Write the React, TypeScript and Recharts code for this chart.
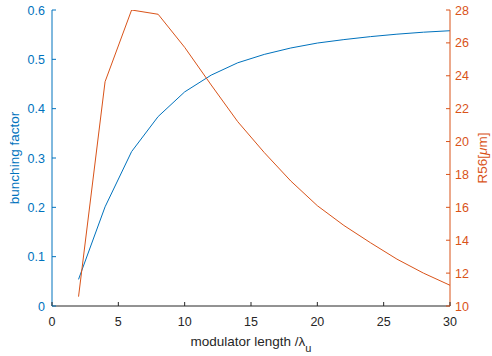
import { Line, LineChart, XAxis, YAxis } from 'recharts'

const FONT = "'Liberation Sans', Arial, Helvetica, sans-serif"
const BLUE = '#0072BD'
const ORANGE = '#D95319'
const GREY = '#262626'

// modulator length in units of the undulator period
const lengths = [2, 4, 6, 8, 10, 12, 14, 16, 18, 20, 22, 24, 26, 28, 30]
const bunching = [
  0.054, 0.201, 0.313, 0.384, 0.434, 0.468, 0.493, 0.51, 0.523, 0.533, 0.54,
  0.546, 0.551, 0.555, 0.558,
]
const r56 = [
  10.57, 23.64, 28.0, 27.74, 25.73, 23.44, 21.21, 19.33, 17.6, 16.1, 14.9,
  13.85, 12.85, 12.0, 11.26,
]

const xTicks = [0, 5, 10, 15, 20, 25, 30]
const leftTicks = [0, 0.1, 0.2, 0.3, 0.4, 0.5, 0.6]
const rightTicks = [10, 12, 14, 16, 18, 20, 22, 24, 26, 28]

const data = lengths.map((x, i) => ({ x, b: bunching[i], r: r56[i] }))

const TICK = 4

function BottomTick({ x, y, payload }: any) {
  return (
    <g>
      <line x1={x} x2={x} y1={y} y2={y - TICK} stroke={GREY} />
      <text x={x} y={y + 20} textAnchor="middle" fill={GREY} fontSize={12.5} fontFamily={FONT}>
        {payload.value}
      </text>
    </g>
  )
}

function TopTick({ x, y }: any) {
  return <line x1={x} x2={x} y1={y} y2={y + TICK} stroke={GREY} />
}

function LeftTick({ x, y, payload }: any) {
  return (
    <g>
      <line x1={x} x2={x + TICK} y1={y} y2={y} stroke={BLUE} />
      <text x={x - 7} y={y + 4.5} textAnchor="end" fill={BLUE} fontSize={12.5} fontFamily={FONT}>
        {payload.value}
      </text>
    </g>
  )
}

function RightTick({ x, y, payload }: any) {
  return (
    <g>
      <line x1={x} x2={x - TICK} y1={y} y2={y} stroke={ORANGE} />
      <text x={x + 5} y={y + 4.5} textAnchor="start" fill={ORANGE} fontSize={12.5} fontFamily={FONT}>
        {payload.value}
      </text>
    </g>
  )
}

function XLabel({ viewBox }: any) {
  const cx = viewBox.x + viewBox.width / 2
  return (
    <text x={cx} y={viewBox.y + 40} textAnchor="middle" fill={GREY} fontSize={13.5} fontFamily={FONT}>
      modulator length /λ
      <tspan dy={6} fontSize={11}>u</tspan>
    </text>
  )
}

function LeftLabel({ viewBox }: any) {
  const cy = viewBox.y + viewBox.height / 2
  const lx = 19
  return (
    <text
      x={lx}
      y={cy}
      transform={`rotate(-90 ${lx} ${cy})`}
      textAnchor="middle"
      fill={BLUE}
      fontSize={13.5}
      fontFamily={FONT}
    >
      bunching factor
    </text>
  )
}

function RightLabel({ viewBox }: any) {
  const cy = viewBox.y + viewBox.height / 2
  const lx = viewBox.x + 37
  return (
    <text
      x={lx}
      y={cy}
      transform={`rotate(-90 ${lx} ${cy})`}
      textAnchor="middle"
      fill={ORANGE}
      fontSize={13.5}
      fontFamily={FONT}
    >
      R56[<tspan fontStyle="italic">μ</tspan>m]
    </text>
  )
}

export default function App() {
  return (
    <div style={{ position: 'absolute', left: 0, top: 0, background: '#fff' }}>
      <LineChart width={492} height={356} data={data} margin={{ top: 10, right: 0, bottom: 0, left: 0 }}>
        <XAxis
          xAxisId="b"
          dataKey="x"
          type="number"
          domain={[0, 30]}
          ticks={xTicks}
          allowDataOverflow
          height={50}
          tickSize={0}
          tickMargin={0}
          tickLine={false}
          axisLine={{ stroke: GREY }}
          tick={BottomTick}
          label={{ content: XLabel }}
        />
        <XAxis
          xAxisId="t"
          orientation="top"
          dataKey="x"
          type="number"
          domain={[0, 30]}
          ticks={xTicks}
          allowDataOverflow
          height={0}
          tickSize={0}
          tickMargin={0}
          tickLine={false}
          axisLine={{ stroke: GREY }}
          tick={TopTick}
        />
        <YAxis
          yAxisId="l"
          type="number"
          domain={[0, 0.6]}
          ticks={leftTicks}
          allowDataOverflow
          width={52}
          tickSize={0}
          tickMargin={0}
          tickLine={false}
          axisLine={{ stroke: BLUE }}
          tick={LeftTick}
          label={{ content: LeftLabel }}
        />
        <YAxis
          yAxisId="r"
          orientation="right"
          type="number"
          domain={[10, 28]}
          ticks={rightTicks}
          allowDataOverflow
          width={42}
          tickSize={0}
          tickMargin={0}
          tickLine={false}
          axisLine={{ stroke: ORANGE }}
          tick={RightTick}
          label={{ content: RightLabel }}
        />
        <Line
          xAxisId="b"
          yAxisId="l"
          type="linear"
          dataKey="b"
          stroke={BLUE}
          strokeWidth={1}
          dot={false}
          isAnimationActive={false}
        />
        <Line
          xAxisId="b"
          yAxisId="r"
          type="linear"
          dataKey="r"
          stroke={ORANGE}
          strokeWidth={1}
          dot={false}
          isAnimationActive={false}
        />
      </LineChart>
    </div>
  )
}
